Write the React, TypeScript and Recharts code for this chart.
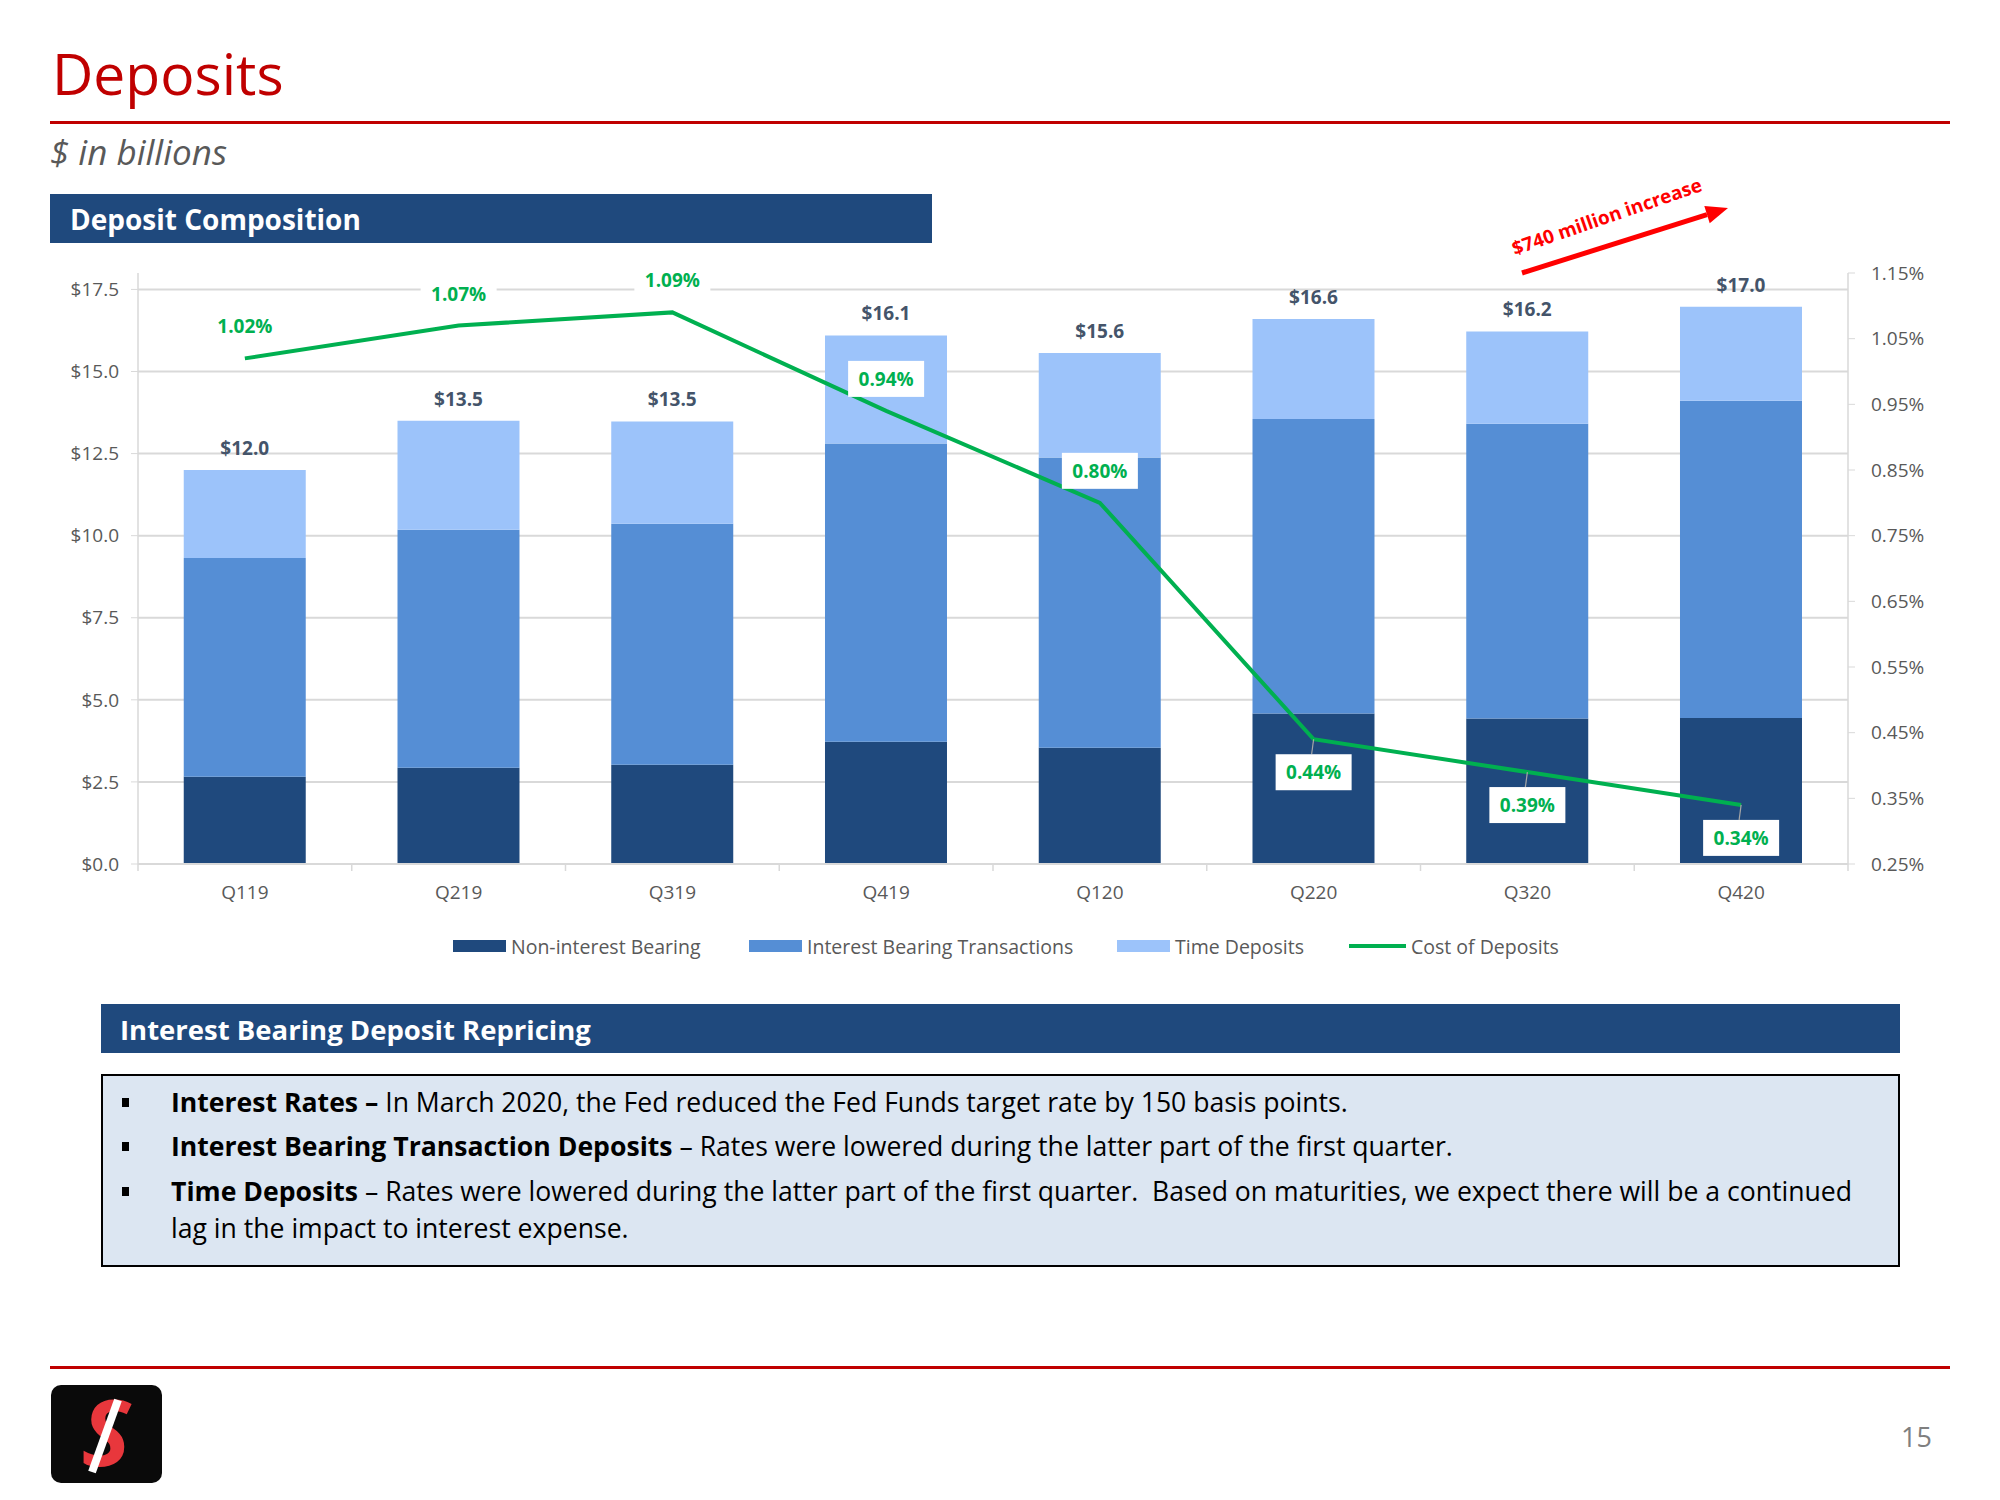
import {
  Bar,
  CartesianGrid,
  ComposedChart,
  LabelList,
  Line,
  XAxis,
  YAxis,
} from "recharts";

const quarters = ["Q119", "Q219", "Q319", "Q419", "Q120", "Q220", "Q320", "Q420"];
const nonInterestBearing = [2.66, 2.93, 3.02, 3.72, 3.54, 4.58, 4.43, 4.45];
const interestBearingTxn = [6.66, 7.25, 7.34, 9.09, 8.84, 8.97, 8.98, 9.66];
const timeDeposits = [2.68, 3.32, 3.12, 3.29, 3.18, 3.05, 2.81, 2.86];
const costOfDeposits = [1.02, 1.07, 1.09, 0.94, 0.8, 0.44, 0.39, 0.34];
const leftTicks = [0, 2.5, 5, 7.5, 10, 12.5, 15, 17.5];
const rightTicks = [0.25, 0.35, 0.45, 0.55, 0.65, 0.75, 0.85, 0.95, 1.05, 1.15];

const legendItems = [
  { label: "Non-interest Bearing", color: "#1f497d", kind: "box", x: 453 },
  { label: "Interest Bearing Transactions", color: "#558ed5", kind: "box", x: 749 },
  { label: "Time Deposits", color: "#9cc3fa", kind: "box", x: 1117 },
  { label: "Cost of Deposits", color: "#00b050", kind: "line", x: 1349 },
];

const data = quarters.map((q, i) => ({
  quarter: q,
  nib: nonInterestBearing[i],
  ibt: interestBearingTxn[i],
  time: timeDeposits[i],
  total: nonInterestBearing[i] + interestBearingTxn[i] + timeDeposits[i],
  cost: costOfDeposits[i],
}));

const FONT = "'Open Sans', 'DejaVu Sans', sans-serif";
const GRAY = "#595959";
const GRID = "#d9d9d9";
const GREEN = "#00b050";

// chart geometry
const CHART_TOP = 250;
const CHART_W = 2000;
const CHART_H = 700;
const MARGIN = { top: 23, right: 52, bottom: 36, left: 58 };
const LEFT_AXIS_W = 80;
const RIGHT_AXIS_W = 100;
const X_AXIS_H = 50;
const PLOT_W = CHART_W - MARGIN.left - MARGIN.right - LEFT_AXIS_W - RIGHT_AXIS_W;
const BAND = PLOT_W / quarters.length;

function XTick(props: any) {
  const { x, y, payload, index } = props;
  const half = BAND / 2;
  return (
    <g>
      <line x1={x - half} x2={x - half} y1={y} y2={y + 7} stroke={GRID} strokeWidth={1.5} />
      {index === quarters.length - 1 && (
        <line x1={x + half} x2={x + half} y1={y} y2={y + 7} stroke={GRID} strokeWidth={1.5} />
      )}
      <text
        x={x}
        y={y + 28}
        textAnchor="middle"
        dominantBaseline="central"
        fill={GRAY}
        fontSize={19}
        fontFamily={FONT}
      >
        {payload.value}
      </text>
    </g>
  );
}

function TotalLabel(props: any) {
  const { x, y, width, value } = props;
  return (
    <text
      x={x + width / 2}
      y={y - 22}
      textAnchor="middle"
      dominantBaseline="central"
      fill="#44546a"
      fontSize={19}
      fontWeight={700}
      fontFamily={FONT}
    >
      ${Number(value).toFixed(1)}
    </text>
  );
}

function CostLabel(props: any) {
  const { x, y, value } = props;
  const below = value < 0.5;
  const cy = below ? y + 33 : y - 32;
  const w = 76;
  const h = 36;
  return (
    <g>
      {below && cy - h / 2 - y > 8 && (
        <line x1={x} y1={y} x2={x - 2} y2={cy - h / 2} stroke="#a6a6a6" strokeWidth={1.2} />
      )}
      <rect x={x - w / 2} y={cy - h / 2} width={w} height={h} fill="#ffffff" />
      <text
        x={x}
        y={cy}
        textAnchor="middle"
        dominantBaseline="central"
        fill={GREEN}
        fontSize={19}
        fontWeight={700}
        fontFamily={FONT}
      >
        {Number(value).toFixed(2)}%
      </text>
    </g>
  );
}

function Decorations() {
  const tip = { x: 1728, y: 208 };
  const ux = 0.954;
  const uy = -0.301;
  const bx = tip.x - 22 * ux;
  const by = tip.y - 22 * uy;
  return (
    <svg
      width={2000}
      height={1500}
      style={{ position: "absolute", left: 0, top: 0 }}
      fontFamily={FONT}
    >
      <text x={52} y={95} fill="#c00000" fontSize={57}>
        Deposits
      </text>
      <rect x={50} y={121} width={1900} height={3} fill="#c00000" />
      <text x={50} y={165} fill={GRAY} fontSize={35} fontStyle="italic">
        $ in billions
      </text>

      <rect x={50} y={194} width={882} height={49} fill="#1f497d" />
      <text x={70} y={230} fill="#ffffff" fontSize={28} fontWeight={700}>
        Deposit Composition
      </text>

      {/* growth arrow */}
      <line x1={1522} y1={273} x2={bx} y2={by} stroke="#ff0000" strokeWidth={5} />
      <polygon
        points={`${tip.x},${tip.y} ${bx + 9 * 0.301},${by + 9 * 0.954} ${bx - 9 * 0.301},${by - 9 * 0.954}`}
        fill="#ff0000"
      />
      <text
        x={1609}
        y={223}
        fill="#ff0000"
        fontSize={19}
        fontWeight={700}
        textAnchor="middle"
        transform="rotate(-19 1609 223)"
      >
        $740 million increase
      </text>

      {/* legend */}
      {legendItems.map((item) => (
        <g key={item.label}>
          {item.kind === "box" ? (
            <rect x={item.x} y={940} width={53} height={12} fill={item.color} />
          ) : (
            <line x1={item.x} x2={item.x + 57} y1={946} y2={946} stroke={item.color} strokeWidth={4} />
          )}
          <text
            x={item.x + (item.kind === "box" ? 58 : 62)}
            y={946}
            dominantBaseline="central"
            fill={GRAY}
            fontSize={19.5}
          >
            {item.label}
          </text>
        </g>
      ))}

      <rect x={101} y={1004} width={1799} height={49} fill="#1f497d" />
      <text x={120} y={1040} fill="#ffffff" fontSize={27.5} fontWeight={700}>
        Interest Bearing Deposit Repricing
      </text>

      <rect x={102} y={1075} width={1797} height={191} fill="#dce6f2" stroke="#000000" strokeWidth={2} />
      <g fontSize={26.6} fill="#000000">
        <rect x={122} y={1098} width={7} height={9} />
        <text x={171} y={1112}>
          <tspan fontWeight={700}>Interest Rates –</tspan>
          {" In March 2020, the Fed reduced the Fed Funds target rate by 150 basis points."}
        </text>
        <rect x={122} y={1142} width={7} height={9} />
        <text x={171} y={1156}>
          <tspan fontWeight={700}>Interest Bearing Transaction Deposits</tspan>
          {" – Rates were lowered during the latter part of the first quarter."}
        </text>
        <rect x={122} y={1187} width={7} height={9} />
        <text x={171} y={1201} style={{ whiteSpace: "pre" }}>
          <tspan fontWeight={700}>Time Deposits</tspan>
          {" – Rates were lowered during the latter part of the first quarter.  Based on maturities, we expect there will be a continued"}
        </text>
        <text x={171} y={1238}>lag in the impact to interest expense.</text>
      </g>

      <rect x={50} y={1366} width={1900} height={3} fill="#c00000" />

      {/* logo */}
      <rect x={51} y={1385} width={111} height={98} rx={10} fill="#0a0a0a" />
      <text
        x={106}
        y={1466}
        textAnchor="middle"
        fill="#e8373c"
        fontSize={92}
        fontWeight={700}
        fontStyle="italic"
      >
        S
      </text>
      <line x1={118} y1={1400} x2={92} y2={1472} stroke="#ffffff" strokeWidth={8} />

      <text x={1932} y={1447} textAnchor="end" fill="#7f7f7f" fontSize={27}>
        15
      </text>
    </svg>
  );
}

export default function App() {
  return (
    <div
      style={{
        position: "absolute",
        left: 0,
        top: 0,
        width: 2000,
        height: 1500,
        background: "#ffffff",
        fontFamily: FONT,
      }}
    >
      <Decorations />
      <div style={{ position: "absolute", left: 0, top: CHART_TOP, width: CHART_W, height: CHART_H }}>
        <ComposedChart width={CHART_W} height={CHART_H} data={data} margin={MARGIN} barCategoryGap="21.4%">
          <CartesianGrid
            yAxisId="left"
            vertical={false}
            horizontalValues={leftTicks}
            stroke={GRID}
            strokeWidth={2}
          />
          <XAxis
            dataKey="quarter"
            height={X_AXIS_H}
            axisLine={{ stroke: GRID, strokeWidth: 2 }}
            tickLine={false}
            tickSize={0}
            tickMargin={0}
            tick={<XTick />}
            interval={0}
          />
          <YAxis
            yAxisId="left"
            width={LEFT_AXIS_W}
            domain={[0, 18]}
            ticks={leftTicks}
            allowDataOverflow
            axisLine={{ stroke: GRID, strokeWidth: 1.5 }}
            tickLine={{ stroke: GRID }}
            tickSize={7}
            tickMargin={12}
            tick={{ fill: GRAY, fontSize: 19 }}
            tickFormatter={(v: number) => `$${v.toFixed(1)}`}
          />
          <YAxis
            yAxisId="right"
            orientation="right"
            width={RIGHT_AXIS_W}
            domain={[0.25, 1.15]}
            ticks={rightTicks}
            allowDataOverflow
            axisLine={{ stroke: GRID, strokeWidth: 1.5 }}
            tickLine={{ stroke: GRID }}
            tickSize={7}
            tickMargin={16}
            tick={{ fill: GRAY, fontSize: 19, textAnchor: "start" }}
            tickFormatter={(v: number) => `${v.toFixed(2)}%`}
          />
          <Bar yAxisId="left" dataKey="nib" stackId="dep" fill="#1f497d" isAnimationActive={false} />
          <Bar yAxisId="left" dataKey="ibt" stackId="dep" fill="#558ed5" isAnimationActive={false} />
          <Bar yAxisId="left" dataKey="time" stackId="dep" fill="#9cc3fa" isAnimationActive={false}>
            <LabelList dataKey="total" content={<TotalLabel />} />
          </Bar>
          <Line
            yAxisId="right"
            dataKey="cost"
            stroke={GREEN}
            strokeWidth={4}
            dot={false}
            activeDot={false}
            type="linear"
            isAnimationActive={false}
          >
            <LabelList dataKey="cost" content={<CostLabel />} />
          </Line>
        </ComposedChart>
      </div>
    </div>
  );
}
